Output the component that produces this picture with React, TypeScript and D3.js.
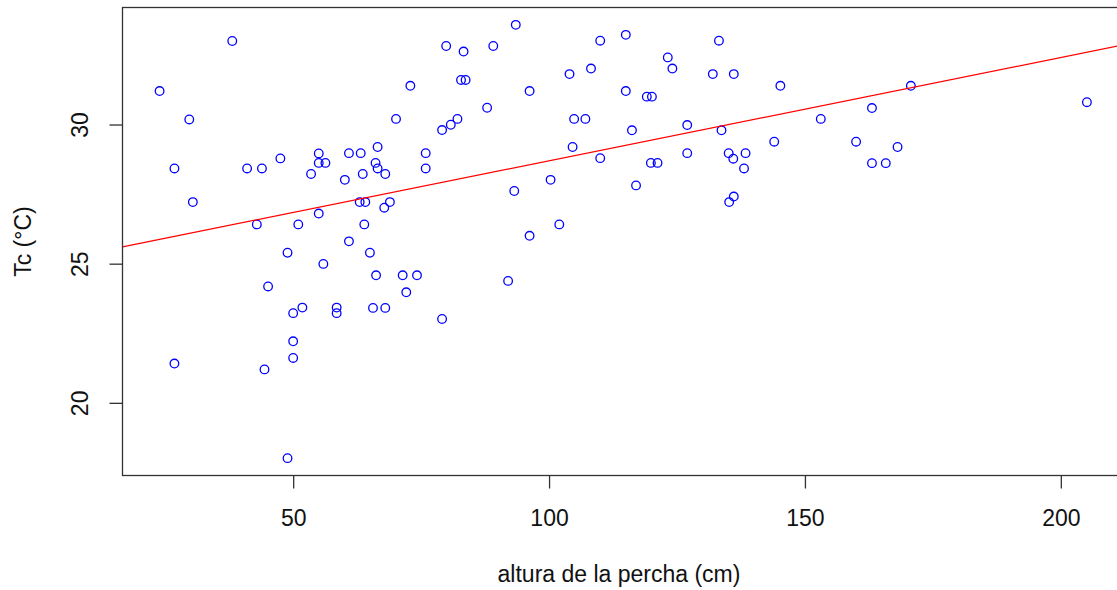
import React from 'react';
import * as d3 from 'd3';

// altura de la percha (cm)
const altura = [
  38.0, 23.8, 29.6, 26.7, 40.9, 43.8, 47.4, 54.9, 54.9, 56.2, 53.4, 60.8, 63.1, 60.0, 63.5, 30.3, 62.9, 64.0,
  54.9, 42.8, 50.9, 63.8, 60.8, 48.8, 64.9, 55.8, 45.0, 51.7, 49.9, 58.4, 58.4, 65.5, 67.9, 49.9, 49.9, 26.7,
  44.3, 48.8, 93.4, 109.9, 79.8, 89.0, 83.2, 108.1, 103.9, 72.8, 82.7, 83.6, 96.1, 87.8, 70.0, 82.0, 80.7, 79.0,
  104.8, 107.0, 104.5, 109.9, 66.4, 66.0, 66.4, 67.9, 75.8, 75.8, 100.2, 93.1, 68.8, 67.7, 101.9, 96.1, 66.1, 71.3,
  74.1, 72.0, 79.0, 91.9, 114.9, 133.1, 123.1, 124.0, 131.9, 136.0, 145.1, 114.9, 119.0, 120.0, 116.1, 126.9,
  133.6, 153.0, 126.9, 135.0, 138.3, 135.9, 119.8, 121.1, 138.0, 143.9, 159.9, 116.9, 136.0, 135.1, 170.6, 205.0,
  163.0, 168.0, 163.0, 165.7,
];

// Tc (°C)
const tc = [
  33.02, 31.22, 30.2, 28.44, 28.44, 28.44, 28.8, 28.98, 28.64, 28.64, 28.24, 28.99, 28.99, 28.03, 28.24, 27.23, 27.23, 27.23,
  26.82, 26.43, 26.43, 26.43, 25.82, 25.41, 25.41, 25.01, 24.2, 23.44, 23.24, 23.44, 23.24, 23.43, 23.43, 22.23, 21.63, 21.43,
  21.22, 18.03, 33.6, 33.03, 32.84, 32.84, 32.64, 32.03, 31.83, 31.41, 31.62, 31.62, 31.22, 30.62, 30.22, 30.22, 30.01, 29.82,
  30.22, 30.22, 29.21, 28.81, 29.21, 28.64, 28.44, 28.24, 28.99, 28.44, 28.03, 27.63, 27.23, 27.03, 26.43, 26.02, 24.6, 24.6,
  24.6, 23.99, 23.03, 24.4, 33.24, 33.03, 32.43, 32.03, 31.83, 31.83, 31.41, 31.22, 31.02, 31.02, 29.81, 30.0,
  29.81, 30.22, 28.99, 28.99, 28.99, 28.79, 28.64, 28.64, 28.44, 29.4, 29.4, 27.83, 27.43, 27.23, 31.41, 30.82,
  30.61, 29.21, 28.63, 28.63,
];

const xTicks = [50, 100, 150, 200];
const yTicks = [20, 25, 30];

// abline(lm(tc ~ altura))
const intercept = 25.01;
const slope = 0.0371;

const W = 1117;
const H = 590;
const FONT = '"Liberation Sans", Arial, sans-serif';

// R style: data range padded by 4% on each side
const pad = (ext: [number, number]) => {
  const d = (ext[1] - ext[0]) * 0.04;
  return [ext[0] - d, ext[1] + d];
};

export default function App() {
  const xDom = pad(d3.extent(altura) as [number, number]);
  const yDom = pad(d3.extent(tc) as [number, number]);
  const x = d3.scaleLinear().domain(xDom).range([122.5, 1124]);
  const y = d3.scaleLinear().domain(yDom).range([475.5, 7.5]);

  const [x0, x1] = x.range();
  const [y0, y1] = y.range();

  const fit = d3
    .line<number>()
    .x(d => x(d))
    .y(d => y(intercept + slope * d));

  const points = altura.map((a, i) => ({ a, t: tc[i] }));

  return (
    <div style={{ position: 'absolute', left: 0, top: 0 }}>
      <svg width={W} height={H} style={{ display: 'block', background: '#fff' }}>
        <defs>
          <clipPath id="plot">
            <rect x={x0} y={y1} width={x1 - x0} height={y0 - y1} />
          </clipPath>
        </defs>

        {points.map((p, i) => (
          <circle key={i} cx={x(p.a)} cy={y(p.t)} r={4.3} fill="none" stroke="#0000ff" strokeWidth={1.3} />
        ))}

        <path d={fit(xDom) ?? ''} fill="none" stroke="#ff0000" strokeWidth={1.2} clipPath="url(#plot)" />

        <rect x={x0} y={y1} width={x1 - x0} height={y0 - y1} fill="none" stroke="#333" strokeWidth={1.3} />

        {xTicks.map(t => (
          <g key={t}>
            <line x1={x(t)} x2={x(t)} y1={y0} y2={y0 + 13} stroke="#333" strokeWidth={1.3} />
            <text x={x(t)} y={526} textAnchor="middle" fontFamily={FONT} fontSize={23} fill="#111">
              {t}
            </text>
          </g>
        ))}

        {yTicks.map(t => (
          <g key={t}>
            <line x1={x0 - 13} x2={x0} y1={y(t)} y2={y(t)} stroke="#333" strokeWidth={1.3} />
            <text
              transform={`translate(88,${y(t)}) rotate(-90)`}
              textAnchor="middle"
              fontFamily={FONT}
              fontSize={23}
              fill="#111"
            >
              {t}
            </text>
          </g>
        ))}

        <text x={619} y={582} textAnchor="middle" fontFamily={FONT} fontSize={23} fill="#111">
          altura de la percha (cm)
        </text>
        <text
          transform={`translate(31,${(y0 + y1) / 2}) rotate(-90)`}
          textAnchor="middle"
          fontFamily={FONT}
          fontSize={23}
          fill="#111"
        >
          Tc (°C)
        </text>
      </svg>
    </div>
  );
}
